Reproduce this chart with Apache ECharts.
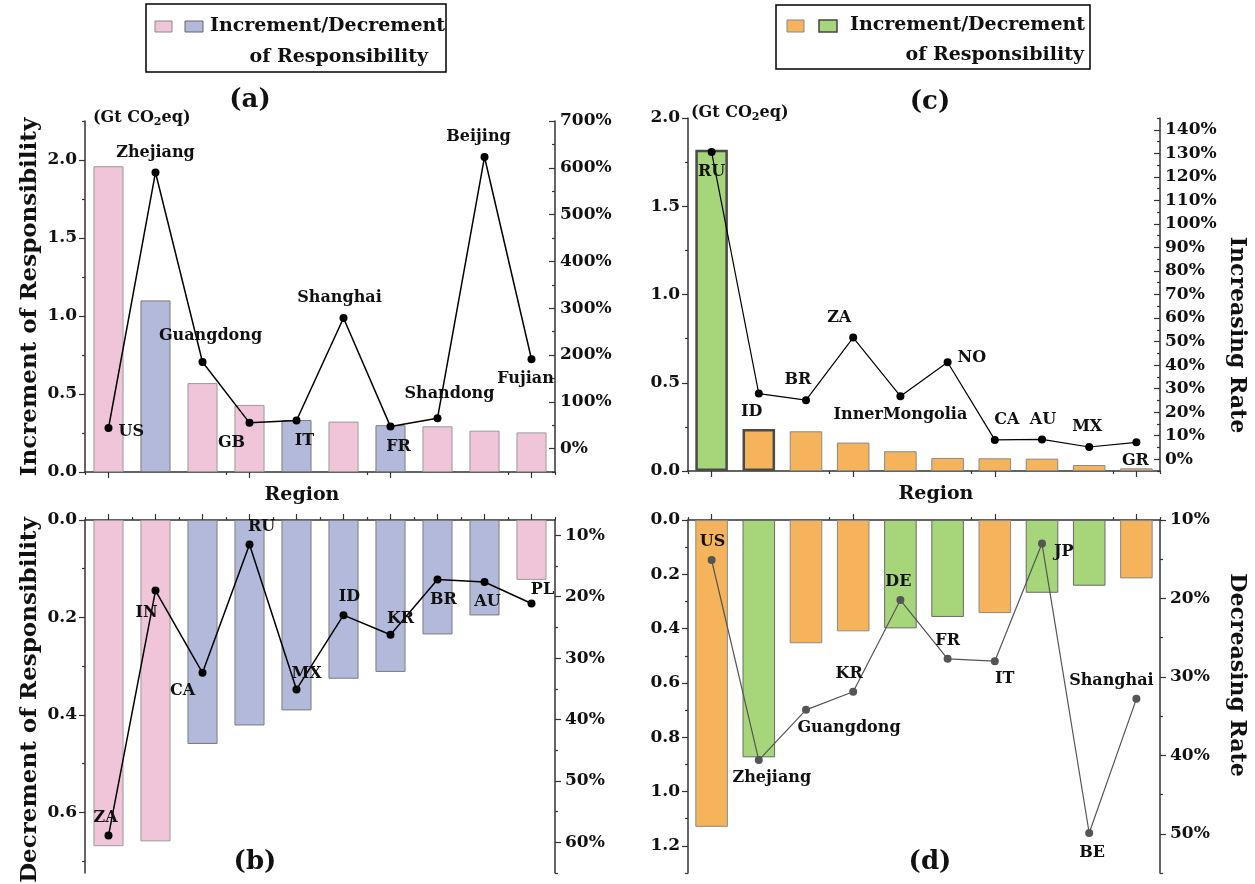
<!DOCTYPE html>
<html><head><meta charset="utf-8">
<script src="https://cdn.jsdelivr.net/npm/echarts@6/dist/echarts.min.js"></script>
<style>html,body{margin:0;padding:0;background:#fff}#c{width:1255px;height:884px}</style>
</head><body><div id="c"></div>
<script>
// ---------- DATA ----------
const catA = ['US','Zhejiang','Guangdong','GB','IT','Shanghai','FR','Shandong','Beijing','Fujian'];
const barA = [1.96,1.10,0.57,0.43,0.333,0.323,0.30,0.293,0.265,0.254];
const rateA = [44,590,185,55,60,279,47,65,623,191];
const groupA = ['p','b','p','p','b','p','b','p','p','p'];

const catB = ['ZA','IN','CA','RU','MX','ID','KR','BR','AU','PL'];
const barB = [0.670,0.660,0.460,0.422,0.391,0.326,0.312,0.235,0.196,0.123];
const rateB = [58.9,19.0,32.4,11.5,35.1,23.0,26.2,17.2,17.6,21.1];
const groupB = ['p','p','b','b','b','b','b','b','b','p'];

const catC = ['RU','ID','BR','ZA','InnerMongolia','NO','CA','AU','MX','GR'];
const barC = [1.82,0.238,0.225,0.161,0.112,0.074,0.072,0.070,0.034,0.015];
const rateC = [130.5,27.9,25.1,51.7,26.8,41.2,8.2,8.4,5.2,7.2];
const groupC = ['g','o','o','o','o','o','o','o','o','o'];

const catD = ['US','Zhejiang','Guangdong','KR','DE','FR','IT','JP','BE','Shanghai'];
const barD = [1.130,0.874,0.454,0.410,0.399,0.357,0.343,0.268,0.242,0.215];
const rateD = [15.1,40.6,34.2,31.9,20.2,27.7,28.0,13.0,49.9,32.8];
const groupD = ['o','g','o','o','g','g','o','g','g','o'];

// tick labels
const ticksALeft = [0,0.5,1.0,1.5,2.0];
const ticksARight = [0,100,200,300,400,500,600,700];
const ticksBLeft = [0,0.2,0.4,0.6];
const ticksBRight = [10,20,30,40,50,60];
const ticksCLeft = [0,0.5,1.0,1.5,2.0];
const ticksCRight = [0,10,20,30,40,50,60,70,80,90,100,110,120,130,140];
const ticksDLeft = [0,0.2,0.4,0.6,0.8,1.0,1.2];
const ticksDRight = [10,20,30,40,50];

// ---------- STYLE ----------
const FONT = 'DejaVu Serif';
const COL = {
  p:{color:'#F1C5D9',borderColor:'#9a9a9a',borderWidth:1},
  b:{color:'#B3B9DB',borderColor:'#7c7c7c',borderWidth:1},
  o:{color:'#F5B35B',borderColor:'#8a8a8a',borderWidth:1},
  g:{color:'#A6D679',borderColor:'#6a6a6a',borderWidth:1}
};
const heavyBorderC = [true,true,false,false,false,false,false,false,false,false];

// label placement per point: [position, dx, dy]
const lblA = [['right',0,4],['top',0,-2],['top',8,-8],['bottom',-18,2],['bottom',8,2],['top',-4,-2],['bottom',8,2],['top',12,-6],['top',-6,-2],['bottom',-6,2]];
const lblB = [['top',-3,0],['bottom',-9,4],['bottom',-20,0],['top',12,0],['top',10,2],['top',6,0],['top',10,2],['bottom',6,2],['bottom',3,2],['top',11,4]];
const lblC = [['bottom',0,2],['bottom',-7,0],['top',-8,-2],['top',-14,-2],['bottom',0,1],['right',0,-4],['top',12,-2],['top',1,-2],['top',-2,-2],['bottom',-1,1]];
const lblD = [['top',1,0],['bottom',13,0],['bottom',43,0],['top',-4,0],['top',-2,0],['top',0,0],['bottom',10,0],['right',2,8],['bottom',3,2],['top',-25,0]];

const grids = [
  {left:85, right:700, top:121, height:351},
  {left:85, right:700, top:520, height:353},
  {left:688, right:95, top:118, height:353},
  {left:688, right:95, top:520, height:353}
];
const barWidths = ['64%','64%','69%','69%'];

function minorOf(ticks, min, max){
  const step = ticks[1]-ticks[0];
  const out = [];
  for (let v = ticks[0]-step/2; v <= max+1e-9; v += step) {
    if (v >= min-1e-9) out.push(+v.toFixed(6));
  }
  return out;
}

const xAxes = [], yAxes = [], series = [];
const axisLineStyle = {color:'#333', width:1.5};
const labFont = {color:'#111', fontFamily:FONT, fontWeight:'bold', fontSize:17};

function addGrid(gi, cats, xpos, L, R, leftTicks, rightTicks, inverse, rightInside, leftFmt){
  xAxes.push({type:'category', gridIndex:gi, data:cats, position:xpos,
    axisLine:{show:true, lineStyle:axisLineStyle},
    axisTick:{show:true, alignWithLabel:true, length:6, lineStyle:{color:'#333',width:1.2}},
    axisLabel:{show:false}, splitLine:{show:false}});
  xAxes.push({type:'category', gridIndex:gi, data:cats, position:xpos,
    axisLine:{show:false},
    axisTick:{show:true, alignWithLabel:false, length:3, lineStyle:{color:'#333',width:1.2}},
    axisLabel:{show:false}, splitLine:{show:false}});
  yAxes.push({type:'value', gridIndex:gi, position:'left', min:L[0], max:L[1], inverse:inverse,
    axisLine:{show:true, lineStyle:axisLineStyle},
    axisTick:{show:true, length:6, customValues:leftTicks, lineStyle:{color:'#333',width:1.2}},
    axisLabel:Object.assign({show:true, customValues:leftTicks, formatter:v=>leftFmt(v), margin:8}, labFont),
    splitLine:{show:false}});
  yAxes.push({type:'value', gridIndex:gi, position:'left', min:L[0], max:L[1], inverse:inverse,
    axisLine:{show:false},
    axisTick:{show:true, length:3, customValues:minorOf(leftTicks,L[0],L[1]), lineStyle:{color:'#333',width:1.2}},
    axisLabel:{show:false}, splitLine:{show:false}});
  yAxes.push({type:'value', gridIndex:gi, position:'right', min:R[0], max:R[1], inverse:inverse,
    axisLine:{show:true, lineStyle:axisLineStyle},
    axisTick:{show:true, inside:rightInside, length:6, customValues:rightTicks, lineStyle:{color:'#333',width:1.2}},
    axisLabel:Object.assign({show:true, customValues:rightTicks, formatter:v=>v+'%', margin:rightInside?5:10}, labFont),
    splitLine:{show:false}});
  yAxes.push({type:'value', gridIndex:gi, position:'right', min:R[0], max:R[1], inverse:inverse,
    axisLine:{show:false},
    axisTick:{show:true, inside:rightInside, length:3, customValues:minorOf(rightTicks,R[0],R[1]), lineStyle:{color:'#333',width:1.2}},
    axisLabel:{show:false}, splitLine:{show:false}});
}

const fmt1 = v => v.toFixed(1);
addGrid(0, catA, 'bottom', [0,2.25], [-50,700], ticksALeft, ticksARight, false, true, fmt1);
addGrid(1, catB, 'top', [0,0.725], [7.5,65], ticksBLeft, ticksBRight, true, false, fmt1);
addGrid(2, catC, 'bottom', [0,2.0], [-5,145], ticksCLeft, ticksCRight, false, true, fmt1);
addGrid(3, catD, 'top', [0,1.3], [10,55], ticksDLeft, ticksDRight, true, false, fmt1);

function addSeries(gi, cats, bars, groups, rates, lbls, lineColor, lineWidth, heavy){
  series.push({type:'bar', xAxisIndex:2*gi, yAxisIndex:4*gi, barWidth:barWidths[gi], z:2,
    data: bars.map((v,i)=>{
      const st = Object.assign({}, COL[groups[i]]);
      if (heavy && heavy[i]) { st.borderColor = '#4a4a4a'; st.borderWidth = 2.5; }
      return {value:v, itemStyle:st};
    })});
  series.push({type:'line', xAxisIndex:2*gi, yAxisIndex:4*gi+2, z:5,
    symbol:'circle', symbolSize:8,
    lineStyle:{color:lineColor, width:lineWidth},
    itemStyle:{color:lineColor},
    data: rates.map((v,i)=>({value:v, label:{show:true, formatter:cats[i],
      position:lbls[i][0], offset:[lbls[i][1],lbls[i][2]], distance:6,
      color:'#111', fontFamily:FONT, fontWeight:'bold', fontSize:16}}))});
}
addSeries(0, catA, barA, groupA, rateA, lblA, '#000', 1.5);
addSeries(1, catB, barB, groupB, rateB, lblB, '#000', 1.5);
addSeries(2, catC, barC, groupC, rateC, lblC, '#000', 1.2, heavyBorderC);
addSeries(3, catD, barD, groupD, rateD, lblD, '#555', 1.2);

const tStyle = (text, size, align, vAlign) => ({text:text, fill:'#111',
  font:'bold '+size+'px "'+FONT+'"', textAlign:align||'center', textVerticalAlign:vAlign||'middle'});
const unitStyle = () => ({text:'(Gt CO{s|2}eq)', fill:'#111', font:'bold 16px "'+FONT+'"',
  textAlign:'left', textVerticalAlign:'middle',
  rich:{s:{fontSize:11, fontWeight:'bold', fontFamily:FONT, padding:[9,0,0,0]}}});

const graphic = [
  {type:'rect', shape:{x:146,y:4,width:300,height:68}, style:{fill:'#fff',stroke:'#000',lineWidth:1.5}},
  {type:'rect', shape:{x:155,y:21,width:17,height:11}, style:{fill:COL.p.color,stroke:'#888',lineWidth:1}},
  {type:'rect', shape:{x:185,y:21,width:18,height:11}, style:{fill:COL.b.color,stroke:'#666',lineWidth:1}},
  {type:'text', x:210, y:26, style:tStyle('Increment/Decrement',19,'left')},
  {type:'text', x:428, y:57, style:tStyle('of Responsibility',19,'right')},
  {type:'rect', shape:{x:776,y:5,width:314,height:64}, style:{fill:'#fff',stroke:'#000',lineWidth:1.5}},
  {type:'rect', shape:{x:787,y:20,width:17,height:12}, style:{fill:COL.o.color,stroke:'#888',lineWidth:1}},
  {type:'rect', shape:{x:819,y:20,width:18,height:12}, style:{fill:COL.g.color,stroke:'#444',lineWidth:1.5}},
  {type:'text', x:850, y:25, style:tStyle('Increment/Decrement',19,'left')},
  {type:'text', x:1084, y:55, style:tStyle('of Responsibility',19,'right')},
  {type:'text', x:250, y:100, style:tStyle('(a)',26)},
  {type:'text', x:255, y:862, style:tStyle('(b)',26)},
  {type:'text', x:930, y:102, style:tStyle('(c)',26)},
  {type:'text', x:930, y:862, style:tStyle('(d)',26)},
  {type:'text', x:302, y:495, style:tStyle('Region',19)},
  {type:'text', x:936, y:494, style:tStyle('Region',19)},
  {type:'text', x:30, y:297, rotation:Math.PI/2, style:tStyle('Increment of Responsibility',23)},
  {type:'text', x:30, y:700, rotation:Math.PI/2, style:tStyle('Decrement of Responsibility',23)},
  {type:'text', x:1237, y:335, rotation:-Math.PI/2, style:tStyle('Increasing Rate',22)},
  {type:'text', x:1237, y:675, rotation:-Math.PI/2, style:tStyle('Decreasing Rate',22)},
  {type:'text', x:93, y:118, style:unitStyle()},
  {type:'text', x:691, y:113, style:unitStyle()}
];

const chart = echarts.init(document.getElementById('c'), null, {renderer:'canvas'});
chart.setOption({
  animation:false,
  backgroundColor:'#fff',
  textStyle:{fontFamily:FONT, fontWeight:'bold'},
  grid: grids,
  xAxis: xAxes,
  yAxis: yAxes,
  series: series,
  graphic: graphic
});
</script></body></html>
